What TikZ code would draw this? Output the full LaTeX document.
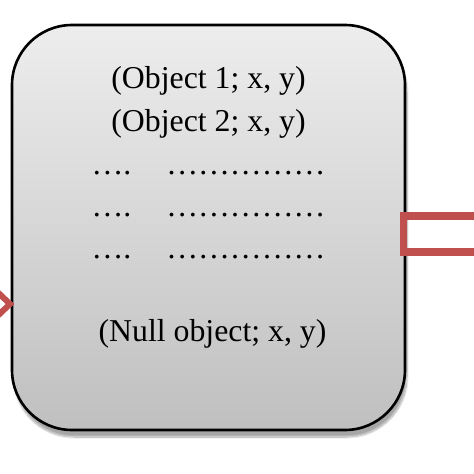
\documentclass[tikz,border=0pt]{standalone}
\usepackage{fontspec}
\setmainfont{Liberation Serif}
\usetikzlibrary{calc,shadows.blur}
\definecolor{arrowred}{HTML}{C0504D}

\begin{document}
\begin{tikzpicture}[x=1pt,y=-1pt]
        %
        \def\fsize{31.8}
        \useasboundingbox (0,0) rectangle (474,474);

        \coordinate (NW) at (12,25);
        \coordinate (SE) at (405,430);

        %
        \draw[line width=2.6pt, rounded corners=60pt, top color=black!7, bottom color=black!25,
              blur shadow={shadow xshift=2pt, shadow yshift=-7pt, shadow blur steps=12, shadow opacity=35}]
              (NW) rectangle (SE);

        %
        \draw[arrowred, line width=7.5pt, miter limit=10] (490,216) -- (403.5,216) -- (403.5,252) -- (490,252);
        \draw[arrowred, line width=6pt] (-12,283) -- (10,304) -- (-12,325);

        \path (NW) -- (SE) coordinate[pos=0.5] (C);
        \tikzset{row/.style={anchor=base, inner sep=0pt, font=\fontsize{\fsize}{38}\selectfont}}

        \node[row] (obj1) at (C |- 0,88) {(Object 1; x, y)};
        \node[row] (obj2) at (C |- 0,131) {(Object 2; x, y)};
        \node[row] (dots1) at (C |- 0,174) {….\hspace{1.1em}……………};
        \node[row] (dots2) at (C |- 0,216) {….\hspace{1.1em}……………};
        \node[row] (dots3) at (C |- 0,258) {….\hspace{1.1em}……………};
        \node[row, xshift=4pt] (null) at (C |- 0,341) {(Null object; x, y)};
    \end{tikzpicture}
\end{document}
